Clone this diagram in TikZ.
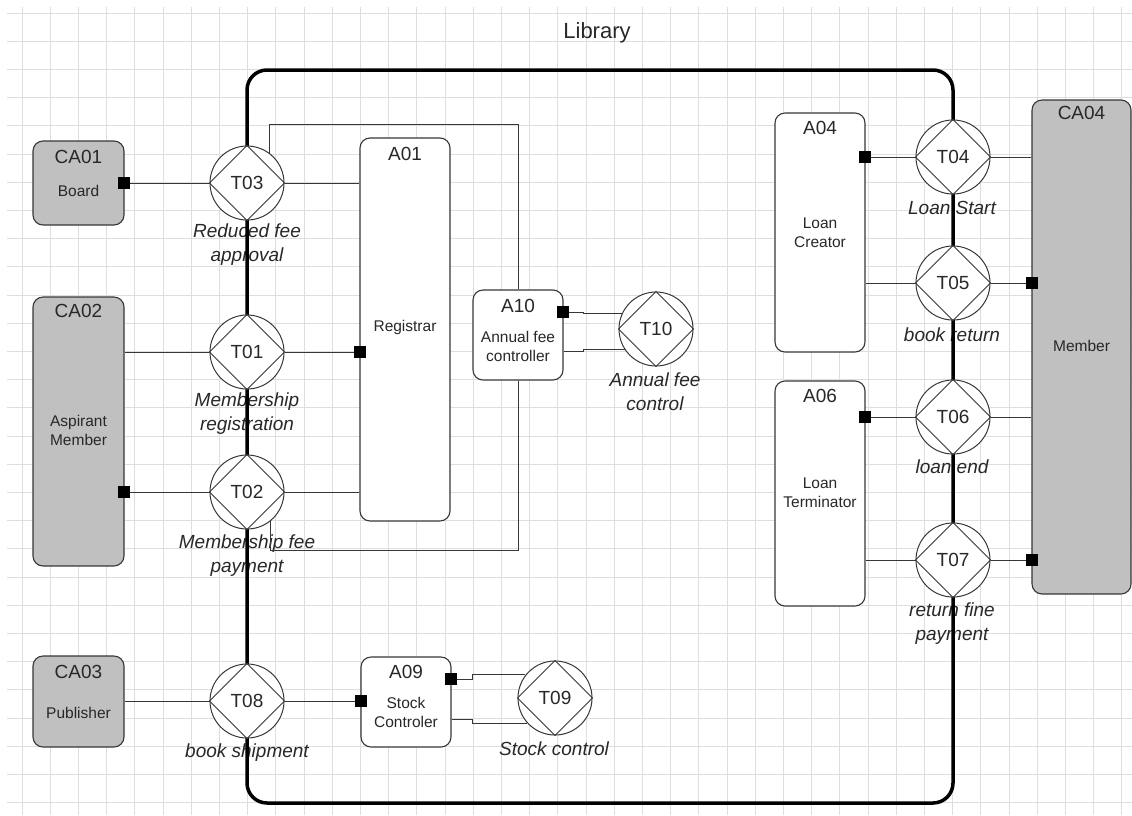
\documentclass[tikz,border=0pt]{standalone}
\usepackage{fontspec}
\setmainfont{Liberation Sans}
\definecolor{gridc}{RGB}{222,222,222}
\definecolor{edgec}{RGB}{55,55,55}
\definecolor{textc}{RGB}{40,40,40}
\definecolor{grayc}{RGB}{192,192,192}
\begin{document}
\begin{tikzpicture}[x=1pt,y=-1pt,
  gridline/.style={draw=gridc, line width=0.8pt},
  txn/.style={circle, draw=edgec, line width=1pt, fill=white, minimum size=74pt, inner sep=0pt, font=\fontsize{19}{23}\selectfont, text=textc},
  actor/.style={draw=edgec, line width=1.1pt, rounded corners=10pt, fill=white, minimum width=90pt, inner sep=0pt},
  cactor/.style={actor, fill=grayc},
  port/.style={fill=black, minimum size=12pt, inner sep=0pt},
  conn/.style={draw=edgec, line width=1pt},
  idtext/.style={font=\fontsize{19}{23}\selectfont, text=textc, inner sep=0pt},
  roletext/.style={font=\fontsize{15.5}{19}\selectfont, text=textc, align=center, inner sep=0pt},
  tlabel/.style={font=\fontsize{19}{24}\selectfont\itshape, text=textc, align=center, inner sep=0pt},
  boundary/.style={draw=black, line width=3.5pt, rounded corners=20pt},
]
\useasboundingbox (0,0) rectangle (1132,815);
\fill[white] (0,0) rectangle (1132,815);
% grid
\foreach \i in {0,...,39} \draw[gridline] ({22+28.2*\i},7) -- ({22+28.2*\i},815);
\foreach \k in {0,...,28} \draw[gridline] (7,{13+28.2*\k}) -- (1132,{13+28.2*\k});

% title
\node[font=\fontsize{22}{26}\selectfont, text=textc, inner sep=0pt] (title) at (597,33) {Library};

% transaction labels (below the boundary line)
\node[tlabel] (L03) at (247,245) {Reduced fee\\approval};
\node[tlabel] (L01) at (247,414) {Membership\\registration};
\node[tlabel] (L02) at (247,555.5) {Membership fee\\payment};
\node[tlabel] (L08) at (247,753) {book shipment};
\node[tlabel] (L09) at (554,749) {Stock control};
\node[tlabel] (L10) at (655,391.5) {Annual fee\\control};
\node[tlabel] (L04) at (952,208) {Loan Start};
\node[tlabel] (L05) at (952,335) {book return};
\node[tlabel] (L06) at (952,467) {loan end};
\node[tlabel] (L07) at (952,623.5) {return fine\\payment};

% boundary
\draw[boundary] (247,70) rectangle (953,803);

% actors
\node[cactor, minimum width=91pt, minimum height=84pt] (CA01) at (78.5,183) {};
\node[cactor, minimum width=91pt, minimum height=269pt] (CA02) at (78.5,431.5) {};
\node[cactor, minimum width=91pt, minimum height=91pt] (CA03) at (78.5,701.5) {};
\node[cactor, minimum width=99pt, minimum height=494pt] (CA04) at (1081.5,347) {};
\node[actor, minimum height=383pt] (A01) at (405,329.5) {};
\node[actor, minimum height=90pt] (A10) at (518,335) {};
\node[actor, minimum height=90pt] (A09) at (406,702) {};
\node[actor, minimum height=239pt] (A04) at (820,232.5) {};
\node[actor, minimum height=225pt] (A06) at (820,493.5) {};

% actor texts
\node[idtext] (tCA01) at (78.5,157) {CA01};
\node[roletext] (rCA01) at (78.5,191) {Board};
\node[idtext] (tCA02) at (78.5,311) {CA02};
\node[roletext] (rCA02) at (78.5,430) {Aspirant\\Member};
\node[idtext] (tCA03) at (78.5,672) {CA03};
\node[roletext] (rCA03) at (78.5,713) {Publisher};
\node[idtext] (tCA04) at (1081.5,113) {CA04};
\node[roletext] (rCA04) at (1081.5,346) {Member};
\node[idtext] (tA01) at (405,154) {A01};
\node[roletext] (rA01) at (405,327) {Registrar};
\node[idtext] (tA10) at (518,306) {A10};
\node[roletext] (rA10) at (518,346.5) {Annual fee\\controller};
\node[idtext] (tA09) at (406,672) {A09};
\node[roletext] (rA09) at (406,712.5) {Stock\\Controler};
\node[idtext] (tA04) at (820,128) {A04};
\node[roletext] (rA04) at (820,232.5) {Loan\\Creator};
\node[idtext] (tA06) at (820,396) {A06};
\node[roletext] (rA06) at (820,493) {Loan\\Terminator};

% transactions
\node[txn] (T03) at (247,183) {T03};
\node[txn] (T01) at (247,352) {T01};
\node[txn] (T02) at (247,492) {T02};
\node[txn] (T08) at (247,701) {T08};
\node[txn] (T04) at (953,157) {T04};
\node[txn] (T05) at (953,283) {T05};
\node[txn] (T06) at (953,417) {T06};
\node[txn] (T07) at (953,560) {T07};
\node[txn] (T10) at (656,329) {T10};
\node[txn] (T09) at (555,698) {T09};
\foreach \n in {T03,T01,T02,T08,T04,T05,T06,T07,T10,T09}
  \draw[conn] (\n.north) -- (\n.east) -- (\n.south) -- (\n.west) -- cycle;

% ports
\node[port] (pCA01) at (124,183) {};
\node[port] (pCA02) at (124,492) {};
\node[port] (pA01) at (360,352) {};
\node[port] (pA10) at (563,312) {};
\node[port] (pA09l) at (361,701) {};
\node[port] (pA09r) at (451,679) {};
\node[port] (pA04) at (865,157) {};
\node[port] (pA06) at (865,417) {};
\node[port] (pCA04a) at (1032,283) {};
\node[port] (pCA04b) at (1032,560) {};

% connectors
\coordinate (c1) at (518,124);
\coordinate (c2) at (518,550);
\draw[conn] (pCA01) -- (T03);
\draw[conn] (T03) -- (T03 -| A01.west);
\draw[conn] (T03.53) |- (c1) -- (A10.north);
\draw[conn] (CA02.east |- T01) -- (T01);
\draw[conn] (T01) -- (pA01);
\draw[conn] (pCA02) -- (T02);
\draw[conn] (T02) -- (T02 -| A01.west);
\draw[conn] (T02.-51) |- (c2) -- (A10.south);
\draw[conn] (pA10.east) -- ++(14,0) |- (T10.156);
\draw[conn] (A10.east |- 0,351) -- ++(20,0) |- (T10.213);
\draw[conn] (CA03.east |- T08) -- (T08);
\draw[conn] (T08) -- (pA09l);
\draw[conn] (pA09r.east) -- ++(15,0) |- (T09.142);
\draw[conn] (A09.east |- 0,719) -- ++(21,0) |- (T09.222);
\draw[conn] (pA04) -- (T04);
\draw[conn] (T04) -- (T04 -| CA04.west);
\draw[conn] (A04.east |- T05) -- (T05);
\draw[conn] (T05) -- (pCA04a);
\draw[conn] (pA06) -- (T06);
\draw[conn] (T06) -- (T06 -| CA04.west);
\draw[conn] (A06.east |- T07) -- (T07);
\draw[conn] (T07) -- (pCA04b);
\end{tikzpicture}
\end{document}
